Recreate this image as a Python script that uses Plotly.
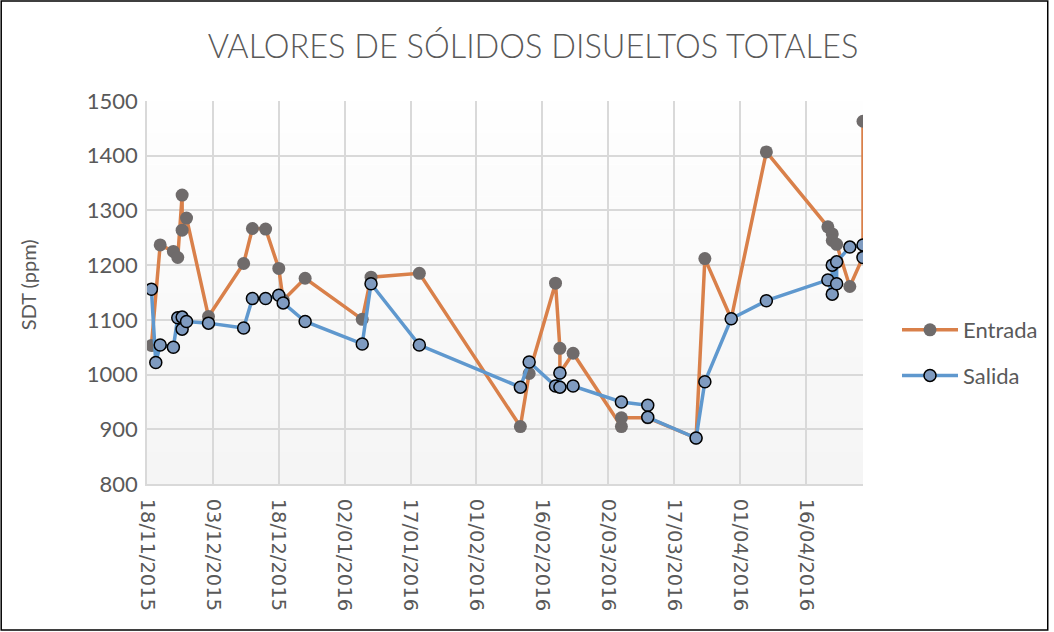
import plotly.graph_objects as go

# ---------------- data ----------------
entrada_dates = ["2015-11-19", "2015-11-21", "2015-11-24", "2015-11-25", "2015-11-26", "2015-11-26",
                 "2015-11-27", "2015-12-02", "2015-12-10", "2015-12-12", "2015-12-15", "2015-12-18",
                 "2015-12-19", "2015-12-24", "2016-01-06", "2016-01-08", "2016-01-19", "2016-02-11",
                 "2016-02-13", "2016-02-19", "2016-02-20", "2016-02-20", "2016-02-23", "2016-03-05",
                 "2016-03-05", "2016-03-11", "2016-03-22", "2016-03-24", "2016-03-30", "2016-04-07",
                 "2016-04-21", "2016-04-22", "2016-04-22", "2016-04-23", "2016-04-26", "2016-04-29",
                 "2016-04-29"]
entrada_vals = [1053, 1237, 1225, 1214, 1328, 1264,
                1286, 1106, 1203, 1267, 1266, 1194,
                1136, 1176, 1101, 1178, 1185, 905,
                1002, 1167, 1048, 1003, 1039, 905,
                921, 921, 884, 1212, 1102, 1407,
                1270, 1257, 1245, 1238, 1161, 1215,
                1463]

salida_dates = ["2015-11-19", "2015-11-20", "2015-11-21", "2015-11-24", "2015-11-25", "2015-11-26",
                "2015-11-26", "2015-11-27", "2015-12-02", "2015-12-10", "2015-12-12", "2015-12-15",
                "2015-12-18", "2015-12-19", "2015-12-24", "2016-01-06", "2016-01-08", "2016-01-19",
                "2016-02-11", "2016-02-13", "2016-02-19", "2016-02-20", "2016-02-20", "2016-02-23",
                "2016-03-05", "2016-03-11", "2016-03-11", "2016-03-22", "2016-03-24", "2016-03-30",
                "2016-04-07", "2016-04-21", "2016-04-22", "2016-04-22", "2016-04-23", "2016-04-23",
                "2016-04-26", "2016-04-29", "2016-04-29"]
salida_vals = [1156, 1022, 1054, 1050, 1104, 1105,
               1083, 1097, 1094, 1085, 1139, 1139,
               1145, 1131, 1097, 1056, 1166, 1054,
               977, 1023, 979, 1003, 977, 979,
               950, 944, 922, 884, 987, 1102,
               1135, 1173, 1147, 1200, 1166, 1206,
               1233, 1237, 1214]

title_text = "VALORES DE SÓLIDOS DISUELTOS TOTALES"
y_title = "SDT (ppm)"
x_range = ["2015-11-18", "2016-04-29"]
y_range = [800, 1500]

# ---------------- layout geometry ----------------
W, H = 1054, 632
L, R, T, B = 147, 864, 101, 484
pw, ph = R - L, B - T

def px_x(p):
    return (p - L) / pw

def px_y(p):
    return (B - p) / ph

TXT = "#595959"
GRID = "#D9D9D9"

fig = go.Figure()

fig.add_trace(go.Scatter(
    x=entrada_dates, y=entrada_vals, name="Entrada", mode="lines+markers",
    line=dict(color="#D9804A", width=3.5),
    marker=dict(color="#6F6B6B", size=13, line=dict(width=0)),
    legendgroup="a",
))
fig.add_trace(go.Scatter(
    x=salida_dates, y=salida_vals, name="Salida", mode="lines+markers",
    line=dict(color="#5F98CE", width=3.5),
    marker=dict(color="#7F9BC0", size=12, line=dict(width=1.5, color="#000000")),
    legendgroup="b",
))

# plot area gradient (white -> light grey)
n = 12
shapes = []
for i in range(n):
    shapes.append(dict(type="rect", xref="paper", yref="paper", x0=0, x1=1,
                       y0=i / n, y1=(i + 1) / n, layer="below", line=dict(width=0),
                       fillcolor=f"rgba(0,0,0,{0.04 * (n - i) / n:.4f})"))
# outer chart border
shapes.append(dict(type="rect", xref="paper", yref="paper",
                   x0=px_x(1), x1=px_x(1049), y0=px_y(1), y1=px_y(630),
                   line=dict(color="#000000", width=1.5), fillcolor="rgba(0,0,0,0)", layer="above"))

fig.update_layout(
    width=W, height=H,
    margin=dict(l=L, r=W - R, t=T, b=H - B),
    paper_bgcolor="white", plot_bgcolor="white",
    font=dict(family="Lato, Noto Sans, sans-serif", color=TXT),
    title=dict(text=title_text, x=533 / W, xanchor="center", y=1 - 47 / H, yanchor="middle",
               font=dict(family="Lato", weight=300, size=32.5, color=TXT)),
    xaxis=dict(type="date", range=x_range, tick0="2015-11-18", dtick=15 * 86400000,
               tickformat="%d/%m/%Y", tickangle=90, showgrid=True, gridcolor=GRID, gridwidth=1.5,
               showline=True, linecolor=GRID, linewidth=1.5, ticks="", ticklen=0,
               ticklabelstandoff=9,
               tickfont=dict(family="DejaVu Sans", size=19.5, color=TXT)),
    yaxis=dict(range=y_range, dtick=100, showgrid=True, gridcolor=GRID, gridwidth=1.5,
               showline=True, linecolor=GRID, linewidth=1.5, ticks="", ticklabelstandoff=3,
               tickfont=dict(family="Lato", size=22, color=TXT), zeroline=False),
    legend=dict(x=px_x(897), xanchor="left", y=px_y(309), yanchor="top",
                font=dict(family="Lato", size=22, color=TXT), tracegroupgap=14,
                traceorder="grouped", bgcolor="rgba(0,0,0,0)", itemwidth=56),
    shapes=shapes,
    annotations=[dict(text=y_title, textangle=-90, x=px_x(28), xanchor="center",
                      y=px_y(285), yanchor="middle", xref="paper", yref="paper",
                      showarrow=False, font=dict(family="Lato", size=20, color=TXT))],
)

fig.write_html("out.html", config={"displayModeBar": False},
               post_script="document.body.style.margin='0';document.body.style.overflow='hidden';")
